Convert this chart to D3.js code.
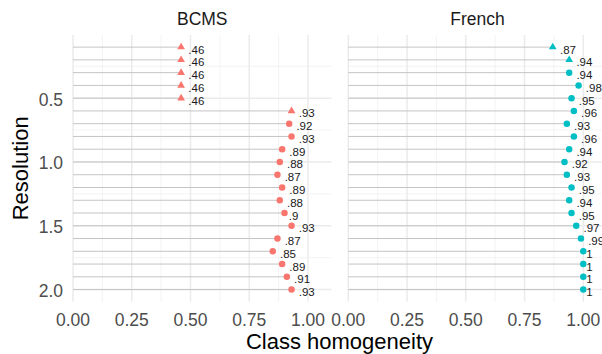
<!DOCTYPE html>
<html>
<head>
<meta charset="utf-8">
<script src="https://cdn.jsdelivr.net/npm/d3@7"></script>
<style>
  body { margin: 0; background: #fff; }
  text { font-family: "Liberation Sans", Arial, sans-serif; }
</style>
</head>
<body>
<div id="chart"></div>
<script>
const resolution = [0.1, 0.2, 0.3, 0.4, 0.5, 0.6, 0.7, 0.8, 0.9, 1.0,
                    1.1, 1.2, 1.3, 1.4, 1.5, 1.6, 1.7, 1.8, 1.9, 2.0];
const bcms   = [.46, .46, .46, .46, .46, .93, .92, .93, .89, .88,
                .87, .89, .88, .9, .93, .87, .85, .89, .91, .93];
const french = [.87, .94, .94, .98, .95, .96, .93, .96, .94, .92,
                .93, .95, .94, .95, .97, .99, 1, 1, 1, 1];
// triangle for the first n rows of each panel
const bcmsTriangles = 6;
const frenchTriangles = 2;
const panelNames = ['BCMS', 'French'];
const panelColors = ['#F8766D', '#00BFC4'];
const xTicks = [0, 0.25, 0.5, 0.75, 1.0];
const yTicks = [0.5, 1.0, 1.5, 2.0];

const width = 602, height = 354;
const panelTop = 35, panelBottom = 301.7;
const panelLeft = [73, 348.3];
const panelW = 258.5;

const panels = [
  {name: panelNames[0], color: panelColors[0], values: bcms, tri: bcmsTriangles},
  {name: panelNames[1], color: panelColors[1], values: french, tri: frenchTriangles}
];

const svg = d3.select('#chart').append('svg')
  .attr('width', width).attr('height', height);

const y = d3.scaleLinear().domain([0.005, 2.095]).range([panelTop, panelBottom]);

const fmt = v => v === 1 ? '1' : d3.format('.2~f')(v).replace(/^0/, '');

panels.forEach((p, pi) => {
  const x = d3.scaleLinear().domain([0, 1.1]).range([panelLeft[pi], panelLeft[pi] + panelW]);
  const g = svg.append('g');

  // minor grid
  const xMinor = d3.range(0.125, 1.1, 0.25);
  const yMinor = [0.25, 0.75, 1.25, 1.75];
  g.selectAll('.xminor').data(xMinor).enter().append('line')
    .attr('x1', d => x(d)).attr('x2', d => x(d)).attr('y1', panelTop).attr('y2', panelBottom)
    .attr('stroke', '#f0f0f0').attr('stroke-width', 0.8);
  g.selectAll('.yminor').data(yMinor).enter().append('line')
    .attr('x1', x(0)).attr('x2', x(1.1)).attr('y1', d => y(d)).attr('y2', d => y(d))
    .attr('stroke', '#f0f0f0').attr('stroke-width', 0.8);
  // major grid
  g.selectAll('.xmajor').data(xTicks).enter().append('line')
    .attr('x1', d => x(d)).attr('x2', d => x(d)).attr('y1', panelTop).attr('y2', panelBottom)
    .attr('stroke', '#ebebeb').attr('stroke-width', 1.5);
  g.selectAll('.ymajor').data(yTicks).enter().append('line')
    .attr('x1', x(0)).attr('x2', x(1.1)).attr('y1', d => y(d)).attr('y2', d => y(d))
    .attr('stroke', '#ebebeb').attr('stroke-width', 1.5);

  // strip label
  svg.append('text')
    .attr('x', x(0.55)).attr('y', 25)
    .attr('text-anchor', 'middle')
    .attr('font-size', 17.5).attr('fill', '#1a1a1a')
    .text(p.name);

  // x axis labels
  g.selectAll('.xlab').data(xTicks).enter().append('text')
    .attr('x', d => x(d)).attr('y', 326)
    .attr('text-anchor', 'middle')
    .attr('font-size', 17.5).attr('fill', '#4d4d4d')
    .text(d => d3.format('.2f')(d));

  const rows = resolution.map((r, i) => ({r, v: p.values[i], tri: i < p.tri}));

  // segments
  g.selectAll('.seg').data(rows).enter().append('line')
    .attr('x1', x(0)).attr('x2', d => x(d.v))
    .attr('y1', d => y(d.r)).attr('y2', d => y(d.r))
    .attr('stroke', '#c4c4c4').attr('stroke-width', 1);

  // points
  g.selectAll('.pt').data(rows).enter().append('path')
    .attr('transform', d => `translate(${x(d.v)},${y(d.r)})`)
    .attr('d', d => d.tri
      ? d3.symbol(d3.symbolTriangle, 26)()
      : d3.symbol(d3.symbolCircle, 33)())
    .attr('fill', p.color);

  // value labels
  g.selectAll('.lab').data(rows).enter().append('text')
    .attr('y', d => y(d.r) + 6.5)
    .attr('font-size', 11.5).attr('fill', '#1a1a1a')
    .text(d => fmt(d.v))
    .attr('x', function(d) {
      return x(d.v) + 0.45 * this.getComputedTextLength();
    });
});

// y axis labels
svg.selectAll('.ylab').data(yTicks).enter().append('text')
  .attr('x', 63).attr('y', d => y(d) + 7.4)
  .attr('text-anchor', 'end')
  .attr('font-size', 17.5).attr('fill', '#4d4d4d')
  .text(d => d3.format('.1f')(d));

// axis titles
svg.append('text')
  .attr('x', 339.5).attr('y', 349)
  .attr('text-anchor', 'middle')
  .attr('font-size', 22).attr('fill', '#000')
  .text('Class homogeneity');

svg.append('text')
  .attr('transform', `translate(28,${(panelTop + panelBottom) / 2}) rotate(-90)`)
  .attr('text-anchor', 'middle')
  .attr('font-size', 22).attr('fill', '#000')
  .text('Resolution');
</script>
</body>
</html>
